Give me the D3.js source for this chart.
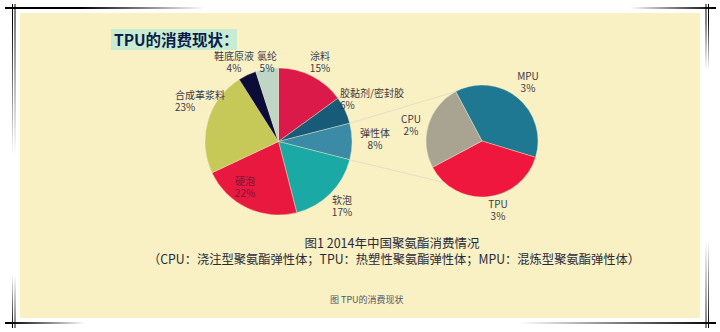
<!DOCTYPE html>
<html><head><meta charset="utf-8">
<script src="https://cdn.jsdelivr.net/npm/d3@7"></script>
<style>
html,body{margin:0;padding:0;background:#fff;}
svg{display:block;}
text{font-family:"Noto Sans CJK SC","Noto Sans",sans-serif;}
</style></head>
<body>
<script>
// ---- data ----
const mainCategories = ["涂料","胶黏剂/密封胶","弹性体","软泡","硬泡","合成革浆料","鞋底原液","氯纶"];
const mainValues = [15, 6, 8, 17, 22, 23, 4, 5];
const subCategories = ["MPU","TPU","CPU"];
const subValues = [3, 3, 2];
const titleText = "TPU的消费现状：";
const captionLine1 = "图1 2014年中国聚氨酯消费情况";
const captionLine2 = "（CPU：浇注型聚氨酯弹性体；TPU：热塑性聚氨酯弹性体；MPU：混炼型聚氨酯弹性体）";
const footText = "图 TPU的消费现状";

// ---- styles / layout ----
const mainColors = ["#dc1a4a","#175b78","#3b8ba6","#1ba9a6","#e8183f","#c6c857","#0c0c38","#bfd6c6"];
const subColors = ["#1f7891","#f0173f","#a9a492"];
const W = 720, H = 332;
const mainC = {x: 278.5, y: 141.5, r: 73.5};
const subC = {x: 482, y: 141, r: 56};
// label anchor positions (layout only)
const mainLabelPos = [[320,59.5],[340,96.5],[375,136.5],[342,203.5],[245,184.5],[175,98.5],[234,59.5],[267,59.5]];
const mainLabelAnchor = ["middle","start","middle","middle","middle","start","middle","middle"];
const subLabelPos = [[528,79.5],[498,207.5],[411,122.5]];

const svg = d3.select("body").append("svg").attr("width", W).attr("height", H);
const defs = svg.append("defs");
function grad(id, x1,y1,x2,y2, c1, c2){
  const g = defs.append("linearGradient").attr("id", id)
    .attr("gradientUnits","userSpaceOnUse").attr("x1",x1).attr("y1",y1).attr("x2",x2).attr("y2",y2);
  g.append("stop").attr("offset",0).attr("stop-color",c1);
  g.append("stop").attr("offset",1).attr("stop-color",c2);
}
// background panel
svg.append("rect").attr("x",20).attr("y",13).attr("width",680).attr("height",305).attr("fill","#f9f1c3");

// decorative frame lines
grad("gTL", 80,0,205,0, "#000", "#fff");
grad("gTR", 715,0,630,0, "#000", "#fff");
grad("gBL", 10,0,85,0, "#000", "#fff");
grad("gBR", 715,0,520,0, "#000", "#fff");
grad("gVTL", 0,20,0,155, "#000", "#fff");
grad("gVBL", 0,327,0,275, "#000", "#fff");
grad("gVTR", 0,20,0,70, "#000", "#fff");
grad("gVBR", 0,327,0,240, "#000", "#fff");
svg.append("rect").attr("x",5).attr("y",7).attr("width",200).attr("height",2).attr("fill","url(#gTL)");
svg.append("rect").attr("x",630).attr("y",7).attr("width",86).attr("height",2).attr("fill","url(#gTR)");
svg.append("rect").attr("x",5).attr("y",322).attr("width",80).attr("height",2).attr("fill","url(#gBL)");
svg.append("rect").attr("x",520).attr("y",322).attr("width",196).attr("height",2).attr("fill","url(#gBR)");
[12,14.5].forEach(x=>{
  svg.append("rect").attr("x",x).attr("y",4).attr("width",1).attr("height",151).attr("fill","url(#gVTL)");
  svg.append("rect").attr("x",x).attr("y",275).attr("width",1).attr("height",53).attr("fill","url(#gVBL)");
});
[705.5,708].forEach(x=>{
  svg.append("rect").attr("x",x).attr("y",4).attr("width",1).attr("height",66).attr("fill","url(#gVTR)");
  svg.append("rect").attr("x",x).attr("y",240).attr("width",1).attr("height",88).attr("fill","url(#gVBR)");
});

// title
svg.append("rect").attr("x",111).attr("y",29).attr("width",126).attr("height",21).attr("fill","#c7ecd1");
svg.append("text").attr("x",114).attr("y",46).attr("font-size",15.5).attr("font-weight","bold")
  .attr("fill","#0e1c4a").text(titleText);

// pies
const pie = d3.pie().sort(null).value(d=>d);
const mainArcs = pie.startAngle(0).endAngle(2*Math.PI)(mainValues);
const arcMain = d3.arc().innerRadius(0).outerRadius(mainC.r);
const gMain = svg.append("g").attr("transform",`translate(${mainC.x},${mainC.y})`);
gMain.selectAll("path").data(mainArcs).join("path")
  .attr("d", arcMain).attr("fill",(d,i)=>mainColors[i])
  .attr("stroke","#f3ecc8").attr("stroke-width",0.4);

const subStart = -28*Math.PI/180;
const subArcs = d3.pie().sort(null).value(d=>d).startAngle(subStart).endAngle(subStart+2*Math.PI)(subValues);
const arcSub = d3.arc().innerRadius(0).outerRadius(subC.r);
const gSub = svg.append("g").attr("transform",`translate(${subC.x},${subC.y})`);
gSub.selectAll("path").data(subArcs).join("path")
  .attr("d", arcSub).attr("fill",(d,i)=>subColors[i])
  .attr("stroke","#f3ecc8").attr("stroke-width",0.4);

// connector lines from elastomer slice to sub pie
const el = mainArcs[2];
function pt(c, a){ return [c.x + c.r*Math.sin(a), c.y - c.r*Math.cos(a)]; }
const p1 = pt(mainC, el.startAngle), p2 = pt(mainC, el.endAngle);
const q1 = pt(subC, subStart), q2 = pt(subC, 222*Math.PI/180);
svg.append("line").attr("x1",p1[0]).attr("y1",p1[1]).attr("x2",q1[0]).attr("y2",q1[1])
  .attr("stroke","#e4e0cc").attr("stroke-width",1);
svg.append("line").attr("x1",p2[0]).attr("y1",p2[1]).attr("x2",q2[0]).attr("y2",q2[1])
  .attr("stroke","#e4e0cc").attr("stroke-width",1);

// labels (name and percentage as separate texts)
const lblColor = "#3a3a4c";
function label(x, y, anchor, name, pct, nameCol, pctCol){
  svg.append("text").attr("x",x).attr("y",y).attr("font-size",10)
    .attr("text-anchor",anchor).attr("fill",nameCol).text(name);
  svg.append("text").attr("x",x).attr("y",y+12).attr("font-size",10)
    .attr("text-anchor",anchor).attr("fill",pctCol).text(pct);
}
mainCategories.forEach((c,i)=>{
  const [x,y] = mainLabelPos[i];
  const nameCol = i===4 ? "#7d1438" : lblColor;
  const pctCol = i===4 ? "#7d1438" : (i===7 ? "#1d3a66" : lblColor);
  label(x, y, mainLabelAnchor[i], c, mainValues[i]+"%", nameCol, pctCol);
});
subCategories.forEach((c,i)=>{
  const [x,y] = subLabelPos[i];
  label(x, y, "middle", c, subValues[i]+"%", lblColor, lblColor);
});

// captions
svg.append("text").attr("x",392).attr("y",248).attr("text-anchor","middle").attr("font-size",12.5)
  .attr("fill","#2a2a3a").text(captionLine1);
svg.append("text").attr("x",394).attr("y",264).attr("text-anchor","middle").attr("font-size",12.5)
  .attr("fill","#2a2a3a").attr("textLength",492).attr("lengthAdjust","spacingAndGlyphs").text(captionLine2);
svg.append("text").attr("x",330).attr("y",303).attr("font-size",9)
  .attr("fill","#555566").text(footText);
</script>
</body></html>
